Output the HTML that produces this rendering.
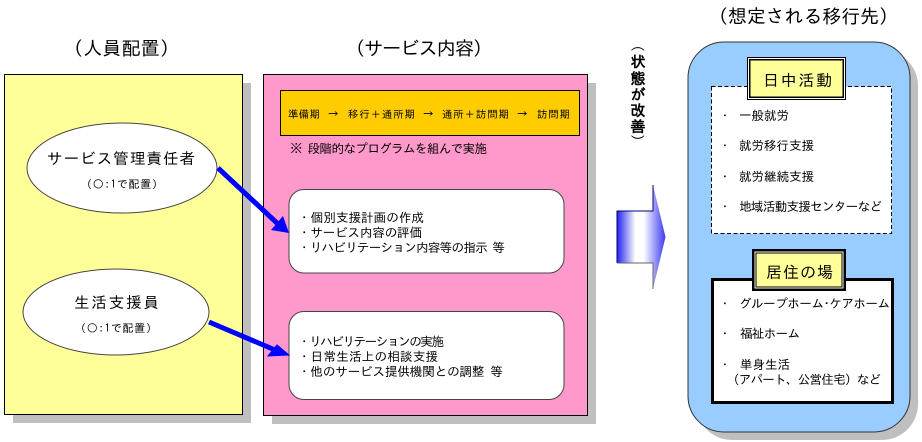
<!DOCTYPE html>
<html lang="ja">
<head>
<meta charset="utf-8">
<style>
html,body{margin:0;padding:0;background:#fff}
svg{display:block}
text{font-family:"IPAGothic","Liberation Sans","Noto Sans CJK JP",sans-serif;fill:#000}
</style>
</head>
<body>
<svg width="922" height="442" viewBox="0 0 922 442" xmlns="http://www.w3.org/2000/svg">
<defs>
<linearGradient id="g" x1="0" y1="0" x2="1" y2="0">
<stop offset="0" stop-color="#2222f0"/>
<stop offset=".38" stop-color="#fff"/>
<stop offset=".55" stop-color="#fff"/>
<stop offset="1" stop-color="#3a3af0"/>
</linearGradient>
</defs>

<!-- titles -->
<text x="64" y="55" font-size="19" textLength="115" lengthAdjust="spacing">（人員配置）</text>
<text x="346" y="55" font-size="19" textLength="146" lengthAdjust="spacing">（サービス内容）</text>
<text x="709" y="23" font-size="19" textLength="189" lengthAdjust="spacing">（想定される移行先）</text>

<!-- yellow panel -->
<rect x="13" y="83" width="238" height="340" fill="#bfbfbf"/>
<rect x="4.5" y="74.5" width="238" height="340" fill="#ffff99" stroke="#000" stroke-width="1"/>

<!-- pink panel -->
<rect x="272" y="83" width="324" height="341" fill="#bfbfbf"/>
<rect x="263.5" y="74.5" width="324" height="341" fill="#ff99cc" stroke="#000" stroke-width="1"/>

<!-- orange -->
<rect x="280.5" y="90.5" width="299" height="45" fill="#ffcc00" stroke="#000"/>
<text x="288" y="118" font-size="10.5" textLength="32" lengthAdjust="spacing">準備期</text>
<text x="328" y="118" font-size="10.5">→</text>
<text x="348" y="118" font-size="10.5" textLength="67" lengthAdjust="spacing">移行＋通所期</text>
<text x="423" y="118" font-size="10.5">→</text>
<text x="442" y="118" font-size="10.5" textLength="67" lengthAdjust="spacing">通所＋訪問期</text>
<text x="517" y="118" font-size="10.5">→</text>
<text x="537" y="118" font-size="10.5" textLength="33" lengthAdjust="spacing">訪問期</text>
<text x="290" y="153" font-size="12.5" textLength="197" lengthAdjust="spacing">※  段階的なプログラムを組んで実施</text>

<!-- rounded boxes -->
<rect x="289" y="189.500" width="275" height="83.500" rx="15" fill="#fff" stroke="#444"/>
<rect x="289" y="311.500" width="275" height="88" rx="15" fill="#fff" stroke="#444"/>
<text x="298" y="222" font-size="12.5" textLength="126" lengthAdjust="spacing">・個別支援計画の作成</text>
<text x="298" y="237" font-size="12.5" textLength="124" lengthAdjust="spacing">・サービス内容の評価</text>
<text x="298" y="252" font-size="12.5" textLength="207" lengthAdjust="spacing">・リハビリテーション内容等の指示  等</text>
<text x="298" y="346" font-size="12.5" textLength="146" lengthAdjust="spacing">・リハビリテーションの実施</text>
<text x="298" y="361" font-size="12.5" textLength="140" lengthAdjust="spacing">・日常生活上の相談支援</text>
<text x="298" y="376" font-size="12.5" textLength="205" lengthAdjust="spacing">・他のサービス提供機関との調整  等</text>

<!-- ellipses -->
<ellipse cx="122" cy="168" rx="95" ry="45" fill="#fff" stroke="#444"/>
<ellipse cx="116" cy="312" rx="93" ry="43" fill="#fff" stroke="#444"/>
<text x="47" y="164" font-size="15.500" textLength="148" lengthAdjust="spacing">サービス管理責任者</text>
<text x="81" y="188" font-size="11" textLength="82" lengthAdjust="spacing">（○:1で配置）</text>
<text x="74" y="308" font-size="15.500" textLength="85" lengthAdjust="spacing">生活支援員</text>
<text x="75" y="332" font-size="11" textLength="82" lengthAdjust="spacing">（○:1で配置）</text>

<!-- blue arrows -->
<line x1="218" y1="168" x2="278" y2="224" stroke="#0000ff" stroke-width="5"/>
<polygon points="289,233 271,230 283,216" fill="#0000ff"/>
<line x1="209" y1="322" x2="275" y2="350" stroke="#0000ff" stroke-width="5"/>
<polygon points="289,355 268,356 277,345" fill="#0000ff" stroke="#0000ff"/>

<!-- block arrow -->
<polygon points="617,211 653,211 653,185 665.500,237 653,289 653,263 617,263" fill="url(#g)"/>
<path d="M617,263 V211 H653 V185" fill="none" stroke="#000080" stroke-width="1"/>
<path d="M617,263 H653 V289" fill="none" stroke="#666" stroke-width="1"/>

<!-- vertical label -->
<text transform="translate(632.7,38) rotate(90)" font-size="14">（</text>
<text x="638" y="67" font-size="15" font-weight="bold" text-anchor="middle">状</text>
<text x="638" y="84" font-size="15" font-weight="bold" text-anchor="middle">態</text>
<text x="638" y="100" font-size="15" font-weight="bold" text-anchor="middle">が</text>
<text x="638" y="116" font-size="15" font-weight="bold" text-anchor="middle">改</text>
<text x="638" y="132" font-size="15" font-weight="bold" text-anchor="middle">善</text>
<text transform="translate(632.7,134) rotate(90)" font-size="14">）</text>

<!-- right panel -->
<rect x="696" y="50" width="222" height="390" rx="36" fill="#bfbfbf"/>
<rect x="688" y="42" width="222" height="390" rx="36" fill="#99ccff" stroke="#333"/>

<rect x="711.500" y="86.500" width="180" height="147" fill="#fff" stroke="#000" stroke-dasharray="4 2.500"/>
<rect x="747" y="57" width="99" height="43" fill="#000"/>
<rect x="748" y="58" width="97" height="41" fill="#fff"/>
<rect x="749" y="59" width="95" height="39" fill="#000"/>
<rect x="750.500" y="60.500" width="92" height="36" fill="#ffff99"/>
<text x="763" y="86" font-size="16" textLength="69" lengthAdjust="spacing">日中活動</text>

<text x="719" y="120" font-size="12">・</text>
<text x="739" y="120" font-size="12.5" textLength="50" lengthAdjust="spacing">一般就労</text>
<text x="719" y="150" font-size="12">・</text>
<text x="739" y="150" font-size="12.5" textLength="75" lengthAdjust="spacing">就労移行支援</text>
<text x="719" y="181" font-size="12">・</text>
<text x="739" y="181" font-size="12.5" textLength="75" lengthAdjust="spacing">就労継続支援</text>
<text x="719" y="211" font-size="12">・</text>
<text x="739" y="211" font-size="12.5" textLength="143" lengthAdjust="spacing">地域活動支援センターなど</text>

<rect x="712.500" y="279.500" width="180" height="123" fill="#fff" stroke="#000" stroke-width="3"/>
<rect x="752.500" y="249.500" width="93" height="41" fill="#000" stroke="#000"/>
<rect x="754.500" y="251.500" width="89" height="37" fill="#fff"/>
<rect x="755.500" y="252.500" width="87" height="35" fill="#000"/>
<rect x="756.500" y="253.500" width="85" height="33" fill="#ffff99"/>
<text x="766" y="278" font-size="16" textLength="67" lengthAdjust="spacing">居住の場</text>

<text x="719" y="308" font-size="12">・</text>
<text x="739" y="308" font-size="12.5" textLength="151" lengthAdjust="spacing">グループホーム･ケアホーム</text>
<text x="719" y="338" font-size="12">・</text>
<text x="740" y="338" font-size="12.5" textLength="60" lengthAdjust="spacing">福祉ホーム</text>
<text x="719" y="369" font-size="12">・</text>
<text x="740" y="369" font-size="12.5" textLength="50" lengthAdjust="spacing">単身生活</text>
<text x="727" y="384" font-size="12.5" textLength="154" lengthAdjust="spacing">（アパート、公営住宅）など</text>
</svg>
</body>
</html>
